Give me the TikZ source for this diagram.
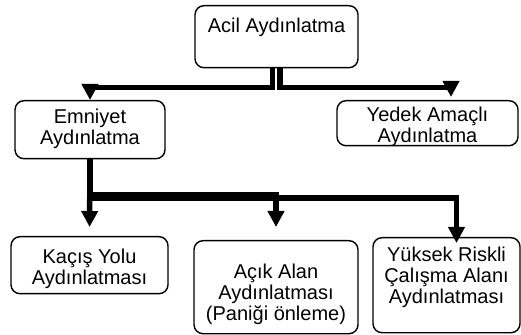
\documentclass[tikz,border=0pt]{standalone}
\usepackage{fontspec}
\setmainfont{Liberation Sans}
\usetikzlibrary{arrows.meta, positioning}

\begin{document}
\begin{tikzpicture}[
    x=1pt, y=1pt,
    % --- node styles ---
    box/.style={
        rectangle, rounded corners=9pt, draw=black, line width=1.4pt,
        fill=white, align=center, anchor=north,
        inner xsep=2pt, inner ysep=0pt,
        font=\fontsize{20}{21}\selectfont
    },
    conn/.style={-{Triangle[length=16pt, width=16pt]}, line width=5.5pt, line join=miter},
]
\useasboundingbox (0,0) rectangle (521,334);

% ===== TOP =====
\node[box, minimum width=163pt, text height=27pt, text depth=35pt] (acil) at (276.5,329)
    {Acil Aydınlatma};

% ===== SECOND LEVEL =====
\node[box, minimum width=150pt, text height=44pt, text depth=14pt] (emniyet) at (90,234)
    {Emniyet\\Aydınlatma};
\node[box, minimum width=181pt, text height=42pt, text depth=3pt] (yedek) at (427.5,234)
    {Yedek Amaçlı\\Aydınlatma};

\draw[conn] ([xshift=-4pt]acil.south) -- ++(0,-19) -| (emniyet.north);
\draw[conn, shorten >=3pt] ([xshift=3.5pt]acil.south) -- ++(0,-19) -| ([xshift=23.5pt]yedek.north);

% ===== THIRD LEVEL =====
\node[box, minimum width=157pt, text height=48pt, text depth=9pt] (kacis) at (89.5,98)
    {Kaçış Yolu\\Aydınlatması};
\node[box, minimum width=164pt, text height=80pt, text depth=13pt] (acik) at (276,94)
    {Açık Alan\\Aydınlatması\\(Paniği önleme)};
\node[box, minimum width=147pt, text height=66pt, text depth=29pt] (yuksek) at (446.5,97)
    {Yüksek Riskli\\Çalışma Alanı\\Aydınlatması};

\draw[conn, shorten >=9pt] (emniyet.south) -- (kacis.north);
\draw[conn, shorten >=13pt] (emniyet.south) -- ++(0,-35) -| (acik.north);
\draw[conn, shorten >=-6pt] (emniyet.south) -- ++(0,-38.5) -| ([xshift=10pt]yuksek.north);

\end{tikzpicture}
\end{document}
